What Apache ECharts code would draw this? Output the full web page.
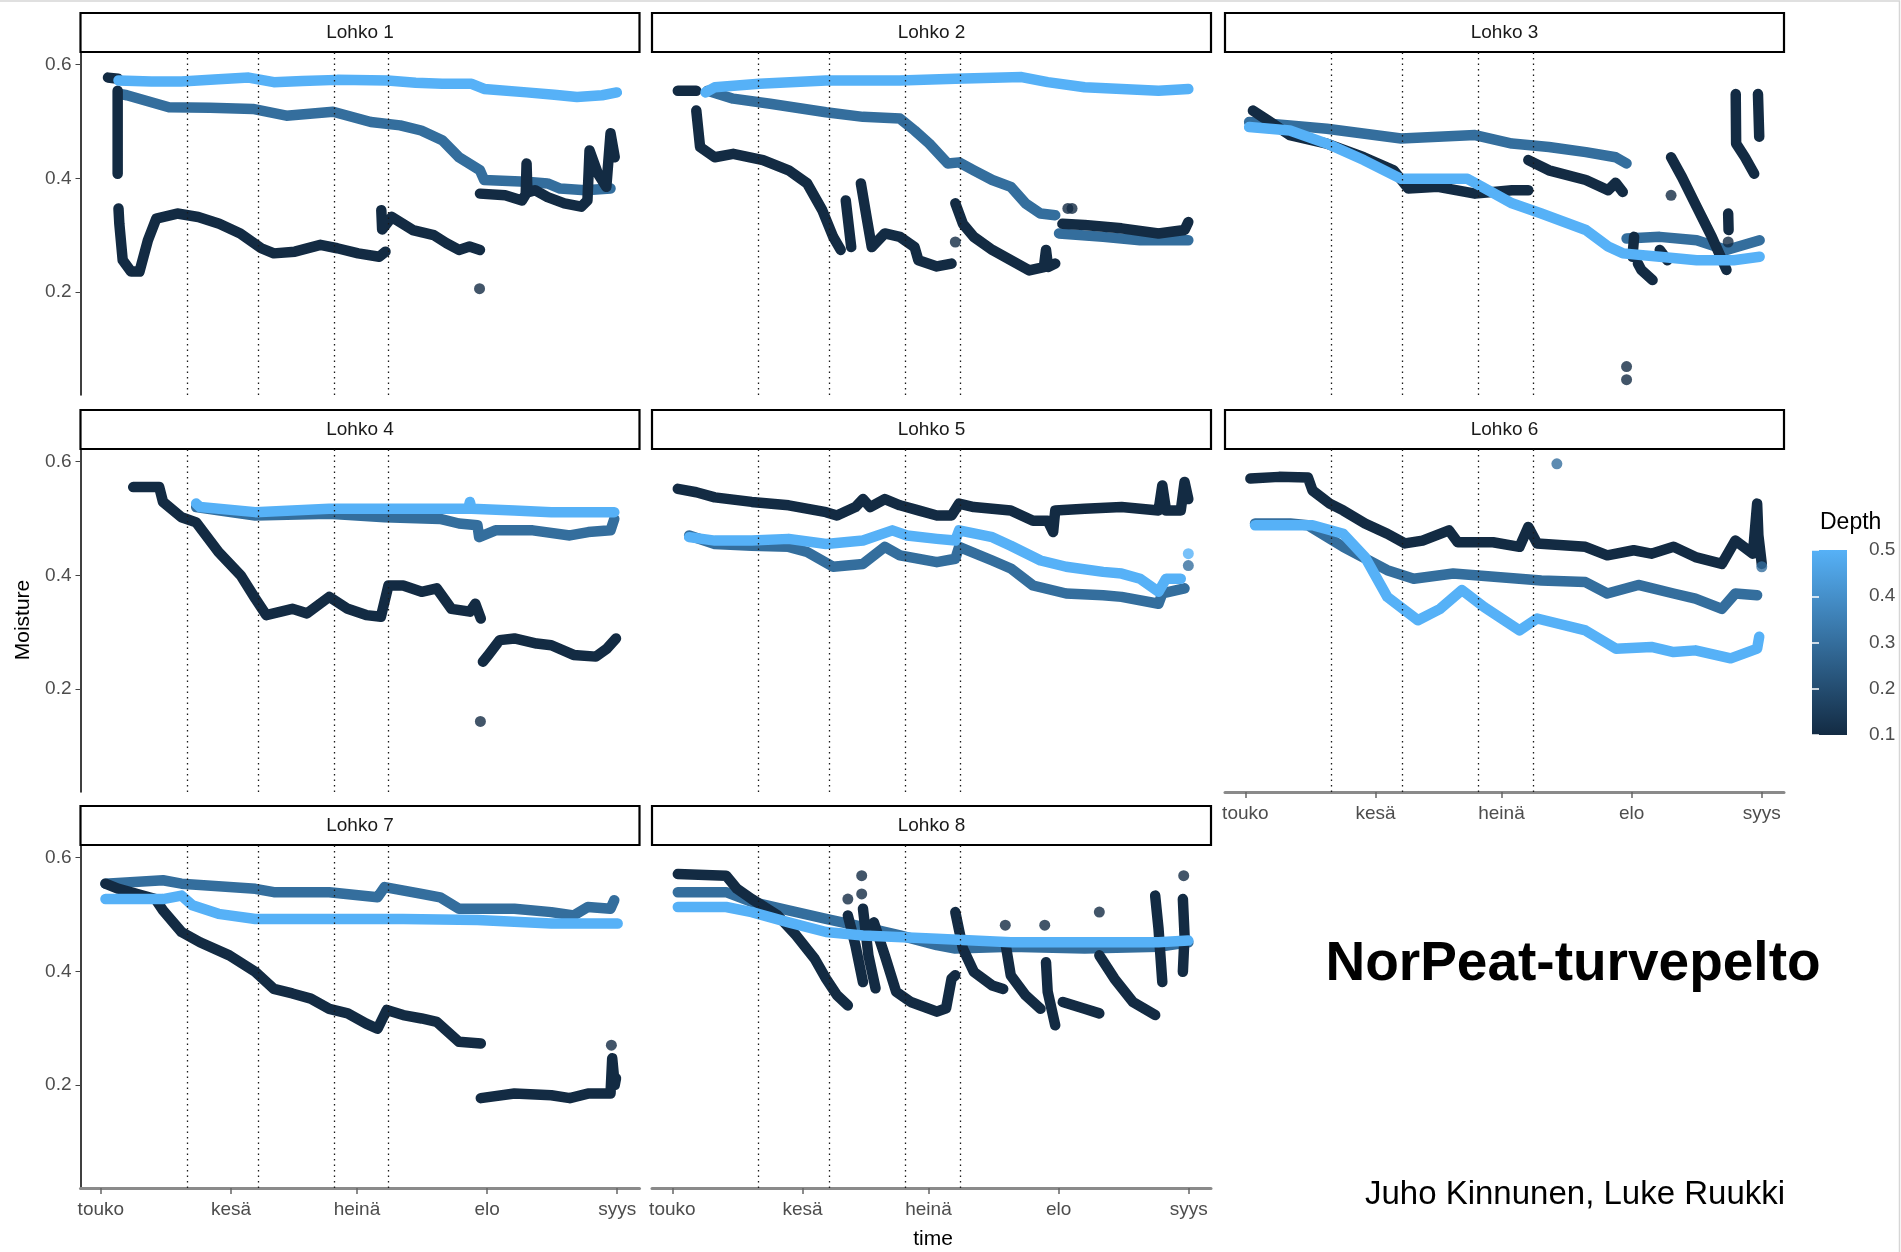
<!DOCTYPE html>
<html>
<head>
<meta charset="utf-8">
<title>NorPeat-turvepelto</title>
<script src="https://cdn.jsdelivr.net/npm/echarts@6/dist/echarts.min.js"></script>
<style>
	html, body { margin: 0; padding: 0; background: #fff; }
	#main { width: 1901px; height: 1252px; }
</style>
</head>
<body>
<div id="main"></div>
<script>
// x = päiviä toukokuun 1. päivästä, y = kosteus, null = katko mittauksessa
var monthTicks = [0, 31, 61, 92, 123];
var monthNames = ['touko', 'kesä', 'heinä', 'elo', 'syys'];
var moistureTicks = [0.2, 0.4, 0.6];
var vlines = [20.5, 37.4, 55.5, 68.5];
var blocks = ['Lohko 1', 'Lohko 2', 'Lohko 3', 'Lohko 4', 'Lohko 5', 'Lohko 6', 'Lohko 7', 'Lohko 8'];
var depths = [0.1, 0.3, 0.5];

var lohko1_01 = [[1.7,0.577],[4.1,0.575], null, [4.0,0.554],[4.0,0.408], null,
	[4.2,0.347],[4.4,0.320],[5.2,0.256],[7.2,0.236],[9.2,0.236],[11.2,0.291],[13.2,0.329],[18.2,0.338],[23.2,0.332],[28.2,0.320],[33.2,0.303],[38.2,0.277],[41.2,0.268],[46.2,0.271],[52.3,0.283],[56.3,0.277],[61.3,0.268],[66.3,0.262],[67.8,0.271], null,
	[66.8,0.344],[67.0,0.310],[69.3,0.332],[74.3,0.309],[79.3,0.300],[82.3,0.286],[85.3,0.274],[87.8,0.280],[90.3,0.274], null,
	[90.3,0.373],[96.3,0.370],[100.3,0.361],[101.2,0.372],[101.4,0.426],[101.6,0.375],[103.4,0.379],[106.4,0.367],[110.4,0.356],[114.4,0.350],[115.9,0.361],[116.4,0.449],[118.4,0.408],[120.4,0.385],[121.4,0.479],[122.4,0.437]];
var lohko1_03 = [[4.2,0.549],[6.2,0.546],[16.2,0.525],[26,0.524],[36.2,0.522],[44.2,0.510],[55.3,0.517],[64.3,0.499],[71.3,0.493],[76.3,0.484],[81.3,0.467],[85.3,0.437],[90.3,0.414],[91.3,0.397],[101.4,0.394],[106.4,0.391],[109.4,0.382],[115.4,0.379],[121.4,0.382]];
var lohko1_05 = [[4.2,0.572],[12,0.570],[19.2,0.570],[28,0.574],[35.2,0.577],[41.2,0.569],[48,0.571],[56.3,0.573],[68.3,0.572],[75,0.568],[81.3,0.566],[88.3,0.566],[91.3,0.557],[101.4,0.551],[108,0.547],[113.4,0.543],[119.4,0.546],[122.9,0.551]];
var lohko1_dots = [[90.2,0.206,0.1]];

var lohko2_01 = [[1.3,0.554],[5.7,0.554], null,
	[5.7,0.519],[6.6,0.455],[10.1,0.437],[14.5,0.443],[21.6,0.432],[27.7,0.414],[32.1,0.391],[35.7,0.344],[38.3,0.297],[40.1,0.274], null,
	[41.3,0.361],[42.6,0.279], null,
	[44.9,0.391],[46.3,0.330],[47.5,0.279],[50.6,0.303],[54.2,0.297],[57.7,0.279],[58.6,0.256],[63,0.245],[66.5,0.250], null,
	[67.4,0.356],[69.2,0.320],[71.8,0.297],[76.2,0.274],[80.6,0.256],[85,0.238],[88.5,0.244],[89,0.274],[89.5,0.244],[91.2,0.250], null,
	[92.9,0.320],[98.2,0.318],[107,0.312],[115.8,0.303],[122,0.309],[122.9,0.323]];
var lohko2_03 = [[8.4,0.554],[14.5,0.540],[23.3,0.531],[36.6,0.516],[45.4,0.508],[54.2,0.505],[57.7,0.484],[61.2,0.461],[65.6,0.426],[68.3,0.428],[71.8,0.414],[76.2,0.397],[80.6,0.385],[84.1,0.356],[87.7,0.338],[91.2,0.335], null,
	[92.1,0.303],[102.6,0.297],[111.4,0.291],[122.9,0.291]];
var lohko2_05 = [[7.9,0.551],[10.1,0.560],[20.7,0.566],[36.6,0.572],[54.2,0.572],[67.4,0.575],[83.2,0.578],[89.4,0.569],[98.2,0.560],[107,0.557],[115.8,0.554],[122.9,0.557]];
var lohko2_dots = [[67.4,0.288,0.1],[94.2,0.347,0.1],[95.2,0.347,0.1]];

var lohko3_01 = [[1.8,0.519],[5.3,0.502],[10.6,0.476],[19.4,0.461],[28.2,0.437],[35.3,0.414],[38.8,0.382],[45.9,0.385],[54.7,0.373],[63.5,0.379],[67.4,0.379], null,
	[67.4,0.432],[72.3,0.414],[81.1,0.397],[86.4,0.379],[88.2,0.392],[89.9,0.376], null,
	[92.6,0.297],[92.2,0.262], null, [93.5,0.250],[94.3,0.239],[97,0.221], null, [98.7,0.274],[100.5,0.256], null,
	[101.4,0.437],[104,0.402],[107.5,0.350],[111.1,0.297],[114.6,0.239], null,
	[115,0.338],[115.1,0.309], null,
	[116.8,0.548],[116.9,0.461],[119,0.437],[121.2,0.408], null,
	[122.1,0.548],[122.4,0.473]];
var lohko3_03 = [[0.9,0.499],[10.6,0.493],[19.4,0.487],[37.1,0.470],[54.7,0.476],[63.5,0.461],[72.3,0.455],[81.1,0.446],[88.2,0.437],[90.8,0.426], null,
	[90.8,0.294],[98.7,0.297],[107.5,0.291],[114.6,0.274],[122.5,0.291]];
var lohko3_05 = [[0.9,0.490],[10.6,0.484],[19.4,0.461],[28.2,0.432],[37.1,0.399],[45.9,0.399],[52.9,0.399],[56.4,0.385],[63.5,0.356],[70.5,0.338],[81.1,0.309],[86.4,0.280],[89.9,0.268],[98.7,0.262],[107.5,0.256],[116.3,0.256],[122.5,0.262]];
var lohko3_dots = [[101.4,0.370,0.1],[90.8,0.069,0.1],[90.8,0.046,0.1],[115,0.288,0.1]];

var lohko4_01 = [[7.7,0.555],[13.9,0.555],[14.8,0.529],[19.2,0.502],[22.7,0.493],[28,0.441],[33.3,0.400],[36.8,0.359],[39.4,0.330],[45.6,0.341],[49.1,0.333],[54.4,0.362],[58.8,0.341],[63.2,0.330],[66.7,0.327],[68.5,0.382],[72,0.382],[76.4,0.371],[80,0.377],[83.5,0.341],[87.9,0.336],[89.2,0.350],[90.5,0.324], null,
	[91,0.248],[92.3,0.260],[95,0.286],[98.5,0.289],[103.8,0.280],[107.3,0.277],[112.6,0.260],[117.9,0.257],[120.5,0.271],[122.7,0.289]];
var lohko4_03 = [[22.7,0.520],[28,0.514],[36.8,0.505],[54.4,0.508],[67.6,0.502],[80.8,0.499],[85.3,0.491],[89.7,0.488],[90.1,0.467],[94,0.479],[102.9,0.479],[111.7,0.470],[116.1,0.476],[121.4,0.479],[122.3,0.499]];
var lohko4_05 = [[22.7,0.526],[23.6,0.520],[36.8,0.511],[54.4,0.517],[67.6,0.517],[80.8,0.517],[87.5,0.517],[87.9,0.529],[88.3,0.517],[98.5,0.514],[107.3,0.511],[122.3,0.511]];
var lohko4_dots = [[90.4,0.143,0.1]];

var lohko5_01 = [[1.3,0.552],[5.7,0.546],[10.1,0.537],[18.9,0.529],[27.7,0.523],[36.6,0.511],[39.2,0.505],[43.6,0.520],[45.4,0.534],[47.1,0.520],[50.6,0.534],[54.2,0.523],[58.6,0.514],[63,0.505],[66.5,0.505],[68.3,0.526],[71.8,0.520],[80.6,0.514],[85.9,0.496],[89.4,0.496],[90.7,0.476],[91.2,0.514],[98.2,0.517],[107,0.520],[115.8,0.514],[116.7,0.558],[117.6,0.514],[121.1,0.514],[122,0.564],[122.9,0.534]];
var lohko5_03 = [[4,0.470],[10.1,0.455],[18.9,0.452],[27.7,0.450],[32.1,0.441],[38.3,0.415],[45.4,0.420],[50.6,0.450],[54.2,0.435],[63,0.423],[67.4,0.429],[68.3,0.450],[76.2,0.426],[80.6,0.412],[85.9,0.382],[93.8,0.368],[102.6,0.365],[107,0.362],[115.8,0.350],[116.7,0.368],[122,0.377]];
var lohko5_05 = [[4,0.467],[10.1,0.461],[18.9,0.461],[27.7,0.464],[36.6,0.455],[45.4,0.461],[52.4,0.479],[55.9,0.470],[63,0.464],[67.4,0.461],[68.3,0.479],[76.2,0.467],[80.6,0.452],[87.7,0.426],[93.8,0.415],[102.6,0.406],[107,0.403],[111.4,0.394],[115.8,0.371],[117.6,0.394],[121.1,0.394]];
var lohko5_dots = [[122.9,0.438,0.5],[122.9,0.417,0.3]];

var lohko6_01 = [[1.2,0.570],[8,0.573],[14.9,0.572],[16,0.549],[20.1,0.526],[23.3,0.514],[28.5,0.491],[33.8,0.473],[38,0.456],[42.2,0.461],[48.5,0.479],[50.6,0.458],[59,0.458],[65.3,0.450],[67.4,0.485],[69.5,0.456],[81,0.450],[86.2,0.435],[92.5,0.444],[96.7,0.438],[102,0.450],[107.2,0.432],[113.5,0.420],[116.7,0.461],[120.9,0.438],[121.9,0.526],[122.2,0.470],[123,0.420]];
var lohko6_03 = [[2.3,0.491],[10.7,0.491],[14.9,0.488],[23.3,0.450],[33.8,0.409],[40.1,0.394],[49.5,0.403],[60,0.397],[70.5,0.391],[81,0.388],[86.2,0.368],[93.6,0.383],[102,0.368],[107.2,0.359],[113.5,0.341],[116.7,0.368],[121.9,0.365]];
var lohko6_05 = [[2.3,0.488],[10.7,0.488],[16,0.488],[23.3,0.473],[28.5,0.432],[33.8,0.362],[41.1,0.321],[46.4,0.341],[51.6,0.374],[56.9,0.344],[65.3,0.303],[69.5,0.324],[81,0.303],[88.3,0.271],[96.7,0.274],[102,0.265],[107.2,0.268],[115.6,0.254],[121.9,0.271],[122.4,0.292]];
var lohko6_dots = [[74.2,0.596,0.3],[123,0.415,0.3]];

var lohko7_01 = [[1.1,0.554],[4.2,0.545],[13,0.527],[14.8,0.507],[19.2,0.469],[23.6,0.451],[30.6,0.428],[36.8,0.399],[41.2,0.369],[45.6,0.361],[50,0.352],[54.4,0.334],[58.8,0.326],[63.2,0.308],[65.9,0.299],[68.1,0.332],[72,0.323],[76.4,0.317],[80,0.311],[85.3,0.276],[90.5,0.273], null,
	[90.5,0.177],[98.5,0.185],[107.3,0.182],[111.7,0.177],[116,0.185],[121.4,0.185],[121.8,0.247],[122.4,0.200],[122.7,0.212]];
var lohko7_03 = [[1.1,0.554],[14.8,0.560],[19.2,0.554],[36.8,0.545],[41.2,0.539],[54.4,0.539],[65.9,0.530],[67.6,0.548],[76.4,0.536],[80.8,0.530],[85.3,0.510],[89.7,0.510],[98.5,0.510],[107.3,0.504],[112.6,0.498],[116,0.513],[121.4,0.510],[122.3,0.525]];
var lohko7_05 = [[1.1,0.527],[14.8,0.527],[19.2,0.533],[21.8,0.516],[28,0.501],[36.8,0.492],[54.4,0.492],[72,0.492],[89.7,0.490],[107.3,0.484],[123.1,0.484]];
var lohko7_dots = [[121.6,0.270,0.1]];

var lohko8_01 = [[1.3,0.571],[12.8,0.568],[15.4,0.545],[18.9,0.527],[25.1,0.498],[29.5,0.463],[33.9,0.422],[36.6,0.387],[39.2,0.358],[41.8,0.340], null,
	[41.8,0.498],[43.6,0.446],[45.4,0.381], null,
	[45.4,0.510],[46.7,0.428],[48.4,0.370], null,
	[48,0.486],[50.6,0.428],[53.3,0.364],[56.8,0.346],[63,0.329],[65.2,0.335],[66.5,0.387],[67.4,0.393], null,
	[67.4,0.504],[69.2,0.440],[71.8,0.399],[76.2,0.375],[78.8,0.369], null,
	[79.3,0.451],[80.6,0.393],[84.1,0.358],[87.7,0.334], null,
	[89,0.416],[89.4,0.364],[91.2,0.305], null,
	[93,0.346],[98.2,0.334],[101.7,0.326], null,
	[101.7,0.428],[105.3,0.387],[109.7,0.346],[115,0.323], null,
	[115,0.533],[115.8,0.475],[116.7,0.381], null,
	[121.6,0.527],[122,0.463],[121.6,0.399]];
var lohko8_03 = [[1.3,0.539],[12.8,0.539],[18.9,0.522],[27.7,0.507],[36.6,0.492],[45.4,0.478],[54.2,0.463],[63,0.446],[67.4,0.440],[80.6,0.443],[98.2,0.440],[115.8,0.443],[122.9,0.451]];
var lohko8_05 = [[1.3,0.513],[12.8,0.513],[18.9,0.504],[27.7,0.486],[36.6,0.469],[45.4,0.463],[63,0.457],[80.6,0.451],[98.2,0.451],[115.8,0.451],[122.9,0.454]];
var lohko8_dots = [[45.1,0.568,0.1],[41.8,0.527,0.1],[45.1,0.536,0.1],[79.3,0.481,0.1],[88.7,0.481,0.1],[101.7,0.504,0.1],[121.8,0.568,0.1]];

var panels = [
	[lohko1_01, lohko1_03, lohko1_05, lohko1_dots],
	[lohko2_01, lohko2_03, lohko2_05, lohko2_dots],
	[lohko3_01, lohko3_03, lohko3_05, lohko3_dots],
	[lohko4_01, lohko4_03, lohko4_05, lohko4_dots],
	[lohko5_01, lohko5_03, lohko5_05, lohko5_dots],
	[lohko6_01, lohko6_03, lohko6_05, lohko6_dots],
	[lohko7_01, lohko7_03, lohko7_05, lohko7_dots],
	[lohko8_01, lohko8_03, lohko8_05, lohko8_dots]
];

var chart = echarts.init(document.getElementById('main'));

var LOW = '#132B43', HIGH = '#56B1F7';
var FONT = 'Liberation Sans, Arial, sans-serif';
var colLeft = [80.5, 652, 1225];
var rowTop = [52, 449, 845];
var panelW = 559, panelH = 343, stripH = 39;
var xMin = -4.85, xMax = 128.3, yMin = 0.019, yMax = 0.622;

function depthColor(d) {
	return echarts.color.lerp((d - 0.1) / 0.4, [LOW, HIGH]);
}

function toLine(arr) {
	return arr.map(function(p) {
		return p ? p : ['-', '-'];
	});
}

var grids = [], xAxes = [], yAxes = [], series = [], graphics = [];

for (var i = 0; i < panels.length; i++) {
	var row = Math.floor(i / 3), col = i % 3;
	// alin paneeli sarakkeessa saa x-akselin
	var bottom = (i >= 5);
	grids.push({
		left : colLeft[col],
		top : rowTop[row],
		width : panelW,
		height : panelH,
		containLabel : false,
		outerBoundsMode : 'none'
	});
	xAxes.push({
		gridIndex : i,
		type : 'value',
		min : xMin,
		max : xMax,
		show : bottom,
		splitLine : { show : false },
		axisLine : { show : true, onZero : false, lineStyle : { color : '#8a8a8a', width : 3 } },
		axisTick : { show : true, length : 6, customValues : monthTicks, lineStyle : { color : '#666', width : 1.5 } },
		axisLabel : {
			customValues : monthTicks,
			margin : 12,
			color : '#4D4D4D',
			fontSize : 19,
			fontFamily : FONT,
			formatter : function(v) {
				return monthNames[monthTicks.indexOf(v)];
			}
		}
	});
	yAxes.push({
		gridIndex : i,
		type : 'value',
		min : yMin,
		max : yMax,
		show : col === 0,
		splitLine : { show : false },
		axisLine : { show : true, onZero : false, lineStyle : { color : '#000', width : 1.5 } },
		axisTick : { show : true, length : 5, customValues : moistureTicks, lineStyle : { color : '#444' } },
		axisLabel : {
			customValues : moistureTicks,
			margin : 9,
			color : '#4D4D4D',
			fontSize : 19,
			fontFamily : FONT,
			formatter : function(v) {
				return v.toFixed(1);
			}
		}
	});

	var p = panels[i];
	var order = [1, 0, 2]; // 0.3, 0.1, 0.5
	for (var k = 0; k < order.length; k++) {
		var s = {
			type : 'line',
			xAxisIndex : i,
			yAxisIndex : i,
			data : toLine(p[order[k]]),
			symbol : 'none',
			showSymbol : false,
			silent : true,
			connectNulls : false,
			lineStyle : {
				width : 10.5,
				color : depthColor(depths[order[k]]),
				cap : 'round',
				join : 'round'
			},
			z : 2 + k
		};
		if (k === order.length - 1) {
			s.markLine = {
				silent : true,
				symbol : 'none',
				animation : false,
				label : { show : false },
				lineStyle : { type : [1.5, 4], color : '#1a1a1a', width : 1.3 },
				data : vlines.map(function(v) {
					return { xAxis : v };
				})
			};
		}
		series.push(s);
	}
	series.push({
		type : 'scatter',
		xAxisIndex : i,
		yAxisIndex : i,
		symbolSize : 11,
		silent : true,
		z : 6,
		data : p[3].map(function(d) {
			return { value : [d[0], d[1]], itemStyle : { color : depthColor(d[2]) } };
		})
	});

	// otsikkopalkki
	graphics.push({
		type : 'rect',
		shape : { x : colLeft[col], y : rowTop[row] - stripH, width : panelW, height : stripH },
		style : { fill : '#fff', stroke : '#000', lineWidth : 2.2 }
	});
	graphics.push({
		type : 'text',
		x : colLeft[col] + panelW / 2,
		y : rowTop[row] - stripH / 2,
		style : { text : blocks[i], fill : '#1a1a1a', font : '19px ' + FONT, align : 'center', verticalAlign : 'middle' }
	});
}

// Depth-selite: pieni oma grid, jonka akseli antaa arvot
grids.push({ left : 1812, top : 550, width : 35, height : 185, containLabel : false, outerBoundsMode : 'none' });
xAxes.push({ gridIndex : 8, type : 'value', show : false, min : 0, max : 1 });
yAxes.push({
	gridIndex : 8, type : 'value', min : 0.1, max : 0.5, interval : 0.1, position : 'right', z : 10,
	splitLine : { show : false },
	axisLine : { show : false },
	axisTick : { show : true, inside : true, length : 7, lineStyle : { color : '#fff', width : 1.5 } },
	axisLabel : { margin : 22, color : '#4D4D4D', fontSize : 19, fontFamily : FONT, formatter : function(v) { return v.toFixed(1); } }
});
yAxes.push({
	gridIndex : 8, type : 'value', min : 0.1, max : 0.5, interval : 0.1, position : 'left', z : 10,
	splitLine : { show : false },
	axisLine : { show : false },
	axisTick : { show : true, inside : true, length : 7, lineStyle : { color : '#fff', width : 1.5 } },
	axisLabel : { show : false }
});

graphics.push({
	type : 'rect',
	z : -1,
	shape : { x : 1812, y : 550, width : 35, height : 185 },
	style : {
		fill : new echarts.graphic.LinearGradient(0, 0, 0, 1, [
			{ offset : 0, color : HIGH },
			{ offset : 1, color : LOW }
		])
	}
});
graphics.push({
	type : 'text', x : 1820, y : 523,
	style : { text : 'Depth', fill : '#000', font : '23px ' + FONT, align : 'left', verticalAlign : 'middle' }
});
graphics.push({
	type : 'text', x : 23, y : 620, rotation : Math.PI / 2,
	style : { text : 'Moisture', fill : '#000', font : '21px ' + FONT, align : 'center', verticalAlign : 'middle' }
});
graphics.push({
	type : 'text', x : 933, y : 1239,
	style : { text : 'time', fill : '#000', font : '21px ' + FONT, align : 'center', verticalAlign : 'middle' }
});
graphics.push({
	type : 'text', x : 1573, y : 965,
	style : { text : 'NorPeat-turvepelto', fill : '#000', font : 'bold 55px ' + FONT, align : 'center', verticalAlign : 'middle' }
});
graphics.push({
	type : 'text', x : 1575, y : 1195,
	style : { text : 'Juho Kinnunen, Luke Ruukki', fill : '#000', font : '33px ' + FONT, align : 'center', verticalAlign : 'middle' }
});
graphics.push({
	type : 'polyline',
	shape : { points : [[0, 1], [1899.5, 1], [1899.5, 1252]] },
	style : { stroke : '#d6d6d6', lineWidth : 1.5, fill : null }
});

chart.setOption({
	animation : false,
	backgroundColor : '#fff',
	grid : grids,
	xAxis : xAxes,
	yAxis : yAxes,
	series : series,
	graphic : graphics
});
</script>
</body>
</html>
